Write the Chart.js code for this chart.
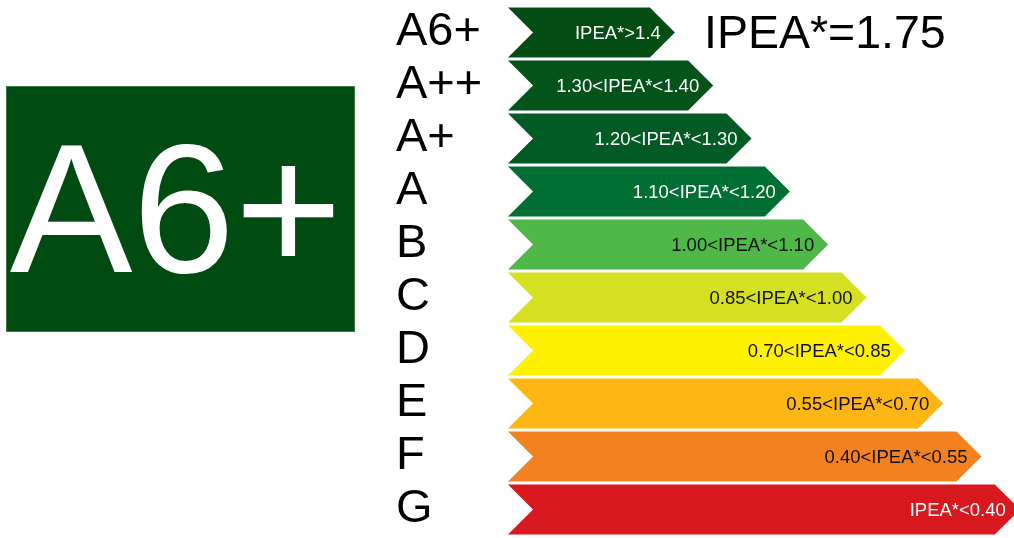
<!DOCTYPE html>
<html>
<head>
<meta charset="utf-8">
<script src="https://cdn.jsdelivr.net/npm/chart.js@4"></script>
<style>
    html, body { margin: 0; padding: 0; background: #fff; }
    #wrap { width: 1014px; height: 538px; position: relative; }
</style>
</head>
<body>
<div id="wrap"><canvas id="labelChart"></canvas></div>
<script>
// energy classes, top to bottom
const classes = ["A6+", "A++", "A+", "A", "B", "C", "D", "E", "F", "G"];
// arrow length per class (in class steps)
const barLengths = [3.7, 4.7, 5.7, 6.7, 7.7, 8.7, 9.7, 10.7, 11.7, 12.7];
const rangeLabels = [
    "IPEA*>1.4", "1.30<IPEA*<1.40", "1.20<IPEA*<1.30", "1.10<IPEA*<1.20",
    "1.00<IPEA*<1.10", "0.85<IPEA*<1.00", "0.70<IPEA*<0.85", "0.55<IPEA*<0.70",
    "0.40<IPEA*<0.55", "IPEA*<0.40"
];
const barColors = [
    "#034c13", "#03531a", "#025b25", "#016e34", "#4fb848",
    "#d5e022", "#fff100", "#fdb614", "#f3811f", "#d7191f"
];
const textColors = [
    "#ffffff", "#ffffff", "#ffffff", "#ffffff", "#111111",
    "#111111", "#111111", "#111111", "#111111", "#ffffff"
];
const currentClass = "A6+";
const currentValue = "1.75";

const FONT = "'Liberation Sans', Arial, sans-serif";

// draws each bar as an arrow: notch on the left, point on the right
const arrowBars = {
    id: "arrowBars",
    beforeDatasetDraw(chart, args) {
        const ctx = chart.ctx;
        args.meta.data.forEach((bar, i) => {
            const p = bar.getProps(["x", "y", "base", "height"], true);
            const half = p.height / 2;
            const top = p.y - half, bottom = p.y + half;
            ctx.save();
            ctx.fillStyle = barColors[i];
            ctx.beginPath();
            ctx.moveTo(p.base, top);
            ctx.lineTo(p.x, top);
            ctx.lineTo(p.x + half, p.y);
            ctx.lineTo(p.x, bottom);
            ctx.lineTo(p.base, bottom);
            ctx.lineTo(p.base + half, p.y);
            ctx.closePath();
            ctx.fill();
            ctx.restore();
        });
        return false;
    },
    afterDatasetsDraw(chart) {
        const ctx = chart.ctx;
        const meta = chart.getDatasetMeta(0);
        ctx.save();
        ctx.font = "18.5px " + FONT;
        ctx.textAlign = "right";
        ctx.textBaseline = "middle";
        meta.data.forEach((bar, i) => {
            ctx.fillStyle = textColors[i];
            ctx.fillText(rangeLabels[i], bar.x + 11, bar.y + 1);
        });
        ctx.restore();
    },
    afterDraw(chart) {
        const ctx = chart.ctx;
        ctx.save();
        // current class badge
        ctx.fillStyle = "#004b12";
        ctx.fillRect(6, 86, 349, 246);
        ctx.strokeStyle = "#3f7a4c";
        ctx.lineWidth = 1;
        ctx.strokeRect(6.5, 86.5, 348, 245);
        ctx.fillStyle = "#ffffff";
        ctx.font = "184px " + FONT;
        ctx.textAlign = "center";
        ctx.textBaseline = "alphabetic";
        ctx.fillText(currentClass, 176, 272);
        // current value
        ctx.fillStyle = "#000000";
        ctx.font = "46.5px " + FONT;
        ctx.textAlign = "left";
        ctx.fillText("IPEA*=" + currentValue, 704, 48);
        ctx.restore();
    }
};

const ctx = document.getElementById("labelChart").getContext("2d");
new Chart(ctx, {
    type: "bar",
    data: {
        labels: classes,
        datasets: [{
            data: barLengths,
            backgroundColor: barColors,
            categoryPercentage: 1,
            barPercentage: 0.945
        }]
    },
    options: {
        indexAxis: "y",
        responsive: true,
        maintainAspectRatio: false,
        animation: false,
        layout: { padding: { left: 396, top: 6, bottom: 2, right: 0 } },
        plugins: {
            legend: { display: false },
            tooltip: { enabled: false }
        },
        scales: {
            x: {
                display: false,
                min: 0,
                max: 13.2
            },
            y: {
                grid: { display: false, drawTicks: false },
                border: { display: false },
                ticks: {
                    color: "#000",
                    crossAlign: "far",
                    autoSkip: false,
                    padding: 0,
                    font: { family: FONT, size: 47 }
                },
                afterFit(scale) {
                    scale.width = 112;
                    scale.paddingTop = 0;
                    scale.paddingBottom = 0;
                }
            }
        }
    },
    plugins: [arrowBars]
});
</script>
</body>
</html>
